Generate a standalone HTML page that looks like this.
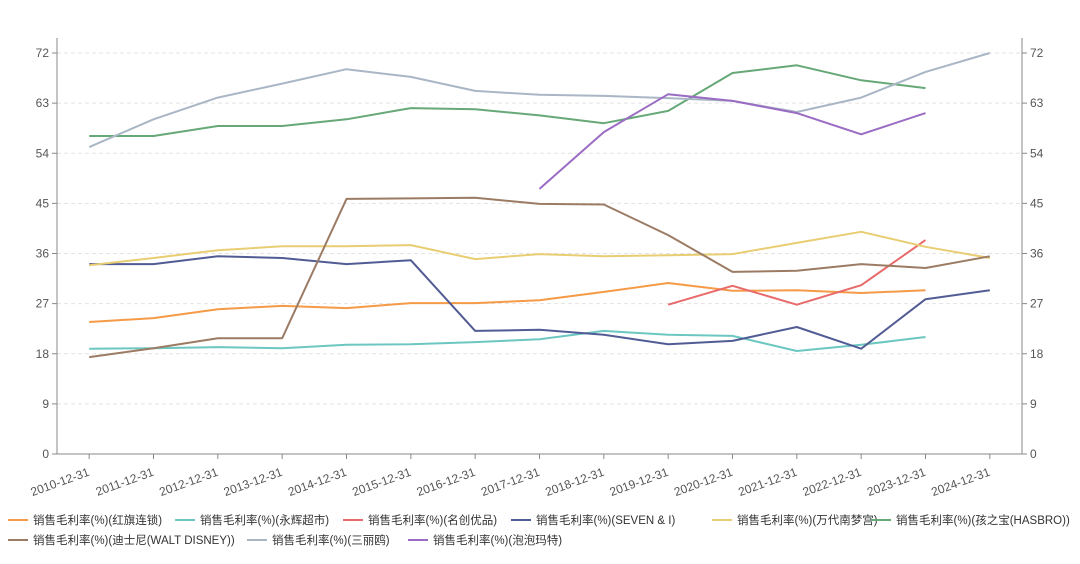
<!DOCTYPE html>
<html><head><meta charset="utf-8"><style>
html,body{margin:0;padding:0;background:#fff;}
svg text{font-family:"Liberation Sans","Noto Sans CJK SC",sans-serif;}
</style></head><body>
<svg id="c" width="1080" height="559" xmlns="http://www.w3.org/2000/svg"></svg>
<script>
const s=document.getElementById('c');
let h='';
const X0=57,X1=1022,Y0=454,Y72=53;
const cw=(X1-X0)/15;
const cx=i=>X0+cw/2+i*cw;
const cy=v=>Y0-(Y0-Y72)*v/72;
for(let v=0;v<=72;v+=9){
  const y=cy(v);
  if(v>0)h+=`<line x1="${X0}" y1="${y}" x2="${X1}" y2="${y}" stroke="#e3e3e3" stroke-dasharray="4,3"/>`;
  h+=`<line x1="${X0-5}" y1="${y}" x2="${X0}" y2="${y}" stroke="#888"/><line x1="${X1}" y1="${y}" x2="${X1+5}" y2="${y}" stroke="#888"/>`;
  h+=`<text x="${X0-8}" y="${y+4}" font-size="12" fill="#555" text-anchor="end">${v}</text>`;
  h+=`<text x="${X1+8}" y="${y+4}" font-size="12" fill="#555">${v}</text>`;
}
h+=`<line x1="${X0}" y1="${Y72-15}" x2="${X0}" y2="${Y0}" stroke="#888"/><line x1="${X1}" y1="${Y72-15}" x2="${X1}" y2="${Y0}" stroke="#888"/><line x1="${X0}" y1="${Y0}" x2="${X1}" y2="${Y0}" stroke="#888"/>`;
for(let i=0;i<15;i++){
  const x=cx(i);
  h+=`<line x1="${x}" y1="${Y0}" x2="${x}" y2="${Y0+5}" stroke="#888"/>`;
  h+=`<text transform="translate(${x-2},${Y0+13}) rotate(-20)" font-size="12" fill="#555" text-anchor="end" dominant-baseline="hanging">${2010+i}-12-31</text>`;
}
const S=[
['#f59a47','红旗连锁',0,[23.7,24.4,26,26.6,26.2,27.1,27.1,27.6,29.1,30.7,29.3,29.4,28.9,29.4]],
['#6cc7c1','永辉超市',0,[18.9,19,19.2,19,19.6,19.7,20.1,20.6,22.1,21.4,21.2,18.5,19.6,21]],
['#e86a6a','名创优品',9,[26.8,30.2,26.8,30.3,38.4]],
['#525c94','SEVEN & I',0,[34.1,34.1,35.5,35.2,34.1,34.8,22.1,22.3,21.4,19.7,20.3,22.8,18.9,27.8,29.4]],
['#e9cd72','万代南梦宫',0,[33.9,35.2,36.6,37.3,37.3,37.5,35,35.9,35.5,35.7,35.9,37.9,39.9,37.2,35.2]],
['#66a877','孩之宝(HASBRO)',0,[57.1,57.1,58.9,58.9,60.1,62.1,61.9,60.8,59.4,61.6,68.4,69.8,67.1,65.7]],
['#9c7b64','迪士尼(WALT DISNEY)',0,[17.4,19,20.8,20.8,45.8,45.9,46,44.9,44.8,39.3,32.7,32.9,34.1,33.4,35.5]],
['#a9b6c5','三丽鸥',0,[55.1,60.1,64,66.5,69.1,67.7,65.2,64.5,64.3,63.9,63.4,61.4,64,68.6,72]],
['#9a6cc3','泡泡玛特',7,[47.6,57.8,64.6,63.4,61.2,57.4,61.2]]
];
for(const [c,n,o,d] of S){
  h+=`<polyline fill="none" stroke="${c}" stroke-width="2" stroke-linejoin="round" points="${d.map((v,i)=>cx(i+o).toFixed(1)+','+cy(v).toFixed(1)).join(' ')}"/>`;
}
const L=[[0,8,520],[1,175,520],[2,343,520],[3,511,520],[4,712,520],[5,871,520],[6,8,540],[7,247,540],[8,408,540]];
for(const [k,x,y] of L){
  h+=`<line x1="${x}" y1="${y}" x2="${x+20}" y2="${y}" stroke="${S[k][0]}" stroke-width="2"/>`;
  h+=`<text x="${x+25}" y="${y+4}" font-size="11.5" fill="#333">销售毛利率(%)(${S[k][1]})</text>`;
}
s.innerHTML=h;
</script>
</body></html>
